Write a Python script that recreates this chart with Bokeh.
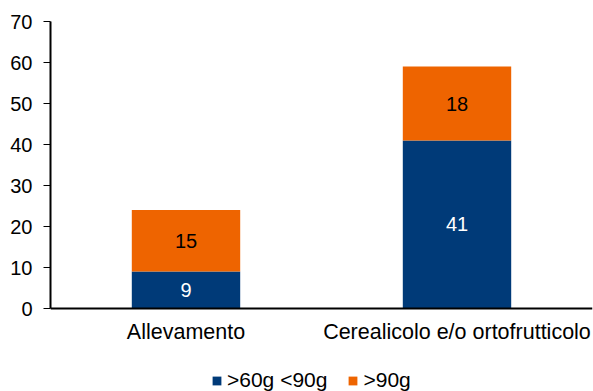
from bokeh.plotting import figure
from bokeh.models import (ColumnDataSource, FactorRange, Range1d, SingleIntervalTicker,
                          Legend, LegendItem, LabelSet)
from bokeh.core.properties import value
from bokeh.embed import file_html
from bokeh.resources import INLINE

categories = ["Allevamento", "Cerealicolo e/o ortofrutticolo"]
s_60_90 = [9, 41]
s_90 = [15, 18]
series_names = [">60g <90g", ">90g"]
colors = ["#003A78", "#EE6400"]
label_colors = ["white", "black"]
y_ticks_max = 70

FONT = "Liberation Sans"

src = ColumnDataSource(data=dict(cat=categories, a=s_60_90, b=s_90))

# frame runs from y=21 px down to the canvas bottom; the value range extends below 0
# so that the legend can sit inside the frame under the category labels
px_per_unit = 41 / 10
frame_top, frame_bottom = 21, 391
y_min = y_ticks_max - (frame_bottom - frame_top) / px_per_unit

p = figure(x_range=FactorRange(*categories), y_range=Range1d(y_min, y_ticks_max),
           width=593, height=391, output_backend="svg", toolbar_location=None,
           min_border_left=50, min_border_right=1, min_border_top=frame_top, min_border_bottom=0)

rs = p.vbar_stack(["a", "b"], x="cat", width=0.4, color=colors, line_color=None, source=src)

# labels at segment midpoints
mid_a = [v / 2 for v in s_60_90]
mid_b = [a + b / 2 for a, b in zip(s_60_90, s_90)]
lab_src_a = ColumnDataSource(data=dict(cat=categories, y=mid_a, t=[str(v) for v in s_60_90]))
lab_src_b = ColumnDataSource(data=dict(cat=categories, y=mid_b, t=[str(v) for v in s_90]))
for s, c in [(lab_src_a, label_colors[0]), (lab_src_b, label_colors[1])]:
    p.add_layout(LabelSet(x="cat", y="y", text="t", source=s, text_align="center",
                          text_baseline="middle", text_font=value(FONT),
                          text_font_size=value("20px"), text_color=value(c)))

p.grid.visible = False
p.outline_line_color = None

p.yaxis.ticker = SingleIntervalTicker(interval=10)
p.yaxis.bounds = (0, y_ticks_max)
p.xaxis.fixed_location = 0
for ax in [p.xaxis[0], p.yaxis[0]]:
    ax.axis_line_color = "black"
    ax.axis_line_width = 2
    ax.major_label_text_font = FONT
    ax.major_label_text_color = "black"
    ax.minor_tick_line_color = None
p.yaxis.major_label_text_font_size = "20px"
p.xaxis.major_label_text_font_size = "21.5px"
p.yaxis.major_tick_out = 7
p.yaxis.major_tick_in = 0
p.yaxis.major_tick_line_color = "black"
p.yaxis.major_label_standoff = 11
p.xaxis.major_tick_line_color = None
p.xaxis.major_tick_out = 0
p.xaxis.major_tick_in = 0
p.xaxis.major_label_standoff = 11

legend = Legend(items=[LegendItem(label=series_names[0], renderers=[rs[0]]),
                       LegendItem(label=series_names[1], renderers=[rs[1]])],
                orientation="horizontal", location=(161, -1), padding=0, margin=0,
                spacing=20, glyph_width=11, glyph_height=11, label_standoff=5,
                label_text_font=FONT, label_text_font_size="21px",
                label_text_color="black", border_line_color=None,
                background_fill_alpha=0)
p.add_layout(legend, "center")

open("out.html", "w").write(file_html(p, INLINE))
